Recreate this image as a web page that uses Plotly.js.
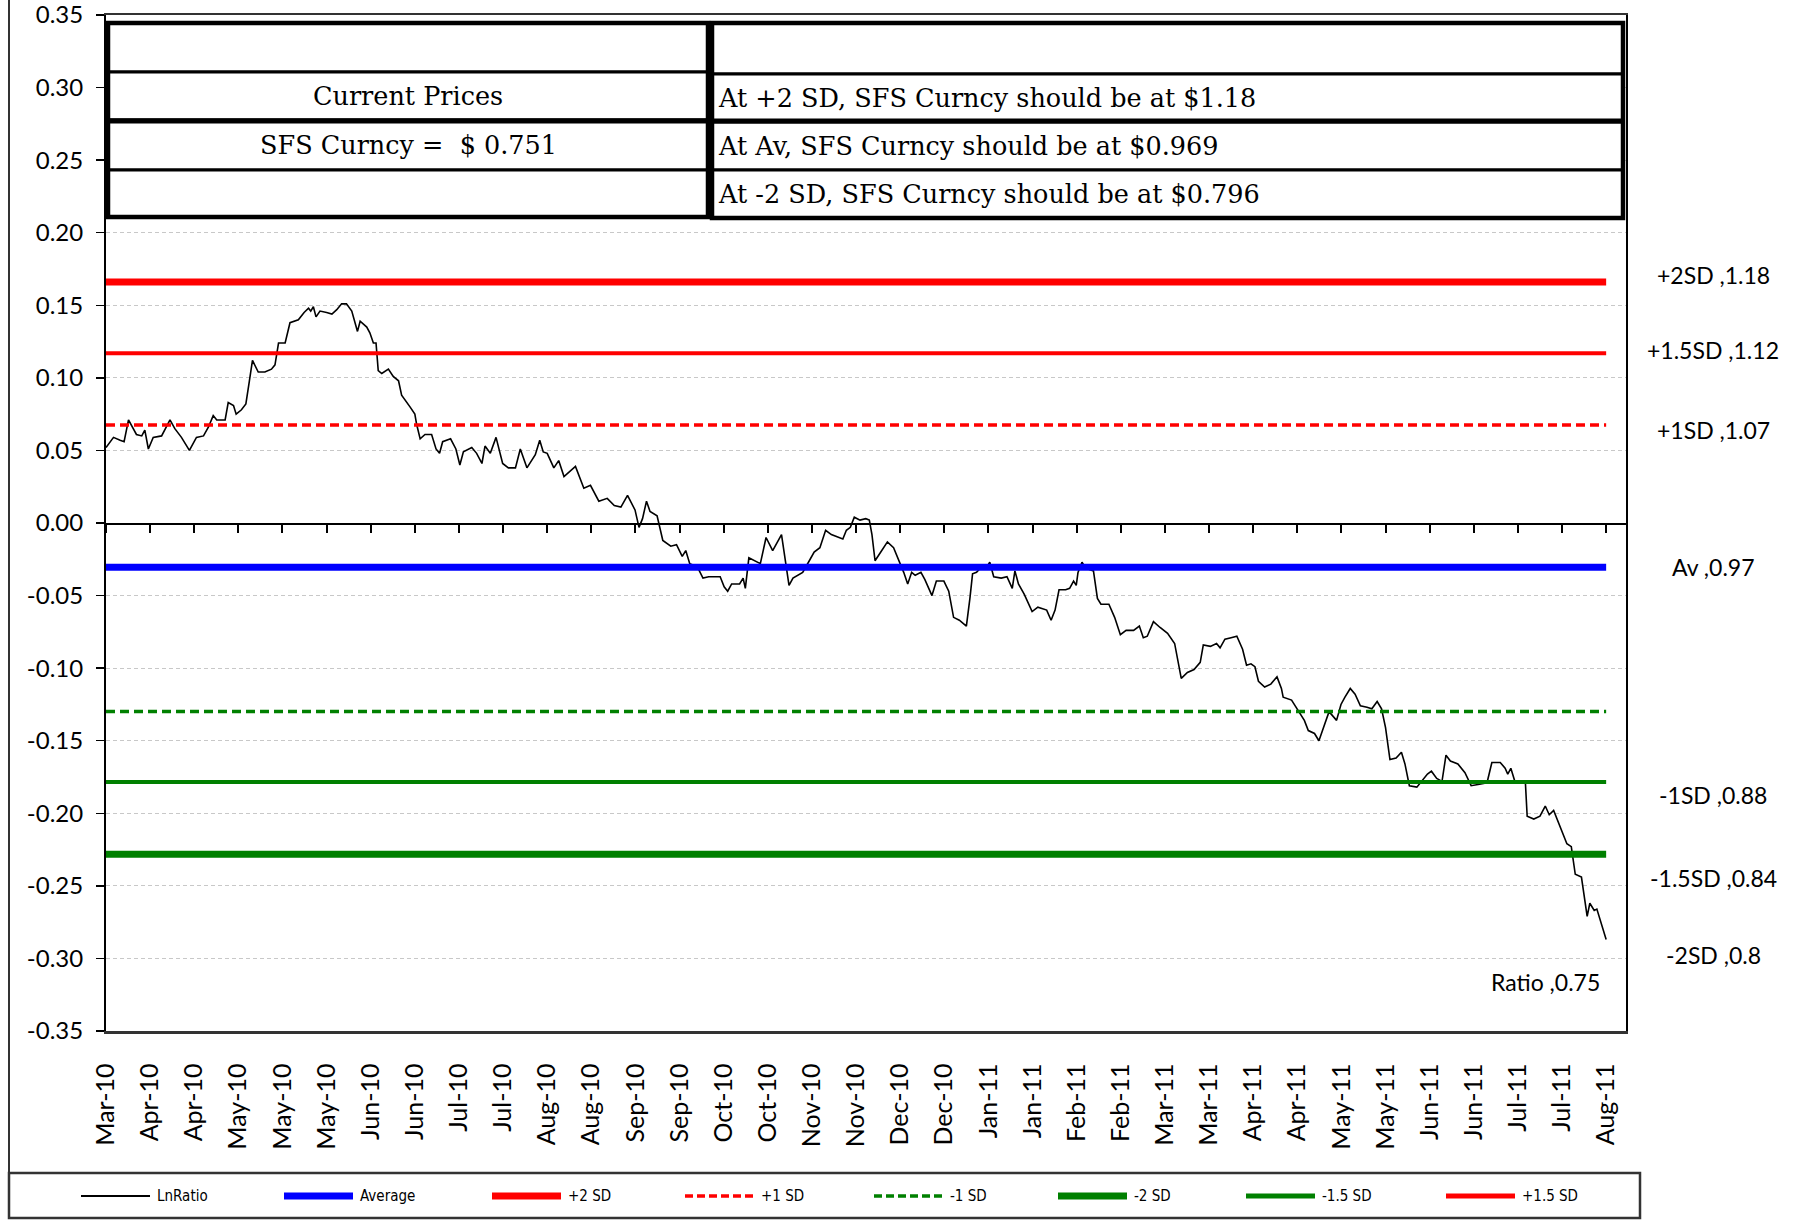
<!DOCTYPE html>
<html><head><meta charset="utf-8">
<script src="https://cdn.plot.ly/plotly-3.0.1.min.js"></script>
<style>html,body{margin:0;padding:0;background:#fff}#chart{width:1804px;height:1225px}</style>
</head><body><div id="chart"></div>
<script>
// ---- DATA ----
const tickLabels = ['Mar-10','Apr-10','Apr-10','May-10','May-10','May-10','Jun-10','Jun-10','Jul-10','Jul-10',
  'Aug-10','Aug-10','Sep-10','Sep-10','Oct-10','Oct-10','Nov-10','Nov-10','Dec-10','Dec-10',
  'Jan-11','Jan-11','Feb-11','Feb-11','Mar-11','Mar-11','Apr-11','Apr-11','May-11','May-11',
  'Jun-11','Jun-11','Jul-11','Jul-11','Aug-11'];
const labelEvery = 10; // one label per 10 trading days

// trading-day index of each sampled point
const lnDay = [0,1.7,3.2,4.1,5.1,5.8,6.9,8.1,8.8,9.6,10.7,12.6,13.7,14.5,15.6,17.1,18.9,20.5,22.1,23.2,
  24.3,25.1,27.0,27.7,28.9,29.5,30.7,31.7,32.5,33.2,34.5,36.0,37.5,38.3,39.1,40.6,41.7,43.6,44.9,45.9,
  46.4,47.0,47.6,48.5,50.0,51.2,52.3,53.4,54.5,55.7,57.0,57.6,59.1,59.8,60.6,61.2,61.7,62.5,64.0,65.1,
  66.3,67.0,68.9,70.0,70.4,71.2,72.3,73.8,74.8,75.6,76.3,78.1,79.3,80.2,81.0,82.9,84.0,85.2,85.9,87.1,
  88.4,89.9,91.2,92.8,93.9,95.4,97.3,98.3,99.1,100.0,101.5,102.6,103.8,105.3,106.4,108.3,109.8,111.7,113.6,115.2,
  116.7,118.2,119.9,120.8,121.6,122.5,123.3,124.9,126.2,128.0,129.3,130.6,131.4,132.3,134.0,135.3,136.6,137.9,139.2,140.1,
  140.9,141.8,143.6,144.4,144.9,145.7,147.0,148.3,149.6,151.1,153.1,153.9,154.8,155.7,157.9,159.4,160.5,161.8,163.1,164.4,
  166.1,167.0,167.8,168.7,169.6,170.9,172.2,173.0,173.6,174.3,175.6,177.1,178.5,179.9,180.8,181.7,182.6,183.4,184.7,185.6,
  187.2,188.2,189.9,191.0,192.1,193.4,195.0,195.8,196.4,197.3,198.2,199.5,200.3,201.2,202.9,204.2,205.4,206.0,206.8,208.1,
  209.9,211.2,213.2,214.2,215.1,216.0,217.5,218.4,219.3,219.9,220.3,221.2,222.0,223.8,224.7,225.5,227.3,228.6,229.9,231.2,
  232.9,234.2,235.1,236.0,237.4,238.9,240.6,242.2,243.0,243.7,245.1,246.6,248.0,248.7,250.3,251.7,252.5,253.6,255.0,256.3,
  257.6,258.5,259.5,260.4,261.2,262.6,264.0,265.4,266.4,266.8,268.7,270.2,271.6,272.5,273.9,274.9,276.3,277.2,278.9,279.9,
  280.8,282.0,283.1,284.3,285.8,286.9,288.1,289.1,290.0,291.0,292.4,293.6,294.4,295.4,297.1,298.2,299.5,300.4,301.6,302.8,
  303.7,304.7,306.4,308.0,309.4,311.3,313.0,314.1,316.0,317.1,317.7,318.4,319.3,321.7,322.1,323.6,325.0,326.2,327.1,328.1,
  329.0,330.2,331.1,332.1,333.0,334.4,335.7,336.3,337.3,337.9,340.0];
const lnRatio = [0.052,0.059,0.057,0.056,0.071,0.067,0.061,0.060,0.064,0.051,0.059,0.060,0.067,0.071,0.065,0.059,0.050,0.059,0.060,0.066,
  0.074,0.071,0.071,0.083,0.081,0.075,0.078,0.082,0.098,0.112,0.104,0.104,0.106,0.109,0.124,0.124,0.138,0.140,0.145,0.148,
  0.146,0.149,0.142,0.146,0.145,0.144,0.147,0.151,0.151,0.146,0.132,0.139,0.135,0.131,0.124,0.124,0.105,0.103,0.106,0.101,
  0.098,0.088,0.080,0.075,0.068,0.058,0.061,0.061,0.051,0.048,0.056,0.058,0.051,0.040,0.049,0.052,0.048,0.041,0.053,0.048,
  0.059,0.041,0.038,0.038,0.051,0.038,0.047,0.057,0.049,0.048,0.038,0.043,0.032,0.036,0.039,0.024,0.026,0.015,0.017,0.012,
  0.011,0.019,0.009,-0.003,0.003,0.015,0.008,0.005,-0.012,-0.016,-0.015,-0.023,-0.019,-0.028,-0.030,-0.038,-0.037,-0.037,-0.037,-0.044,
  -0.047,-0.042,-0.042,-0.038,-0.045,-0.024,-0.026,-0.028,-0.010,-0.019,-0.008,-0.023,-0.043,-0.038,-0.034,-0.026,-0.020,-0.017,-0.005,-0.008,
  -0.010,-0.011,-0.005,-0.003,0.004,0.002,0.003,0.002,-0.008,-0.026,-0.020,-0.013,-0.017,-0.027,-0.034,-0.042,-0.034,-0.036,-0.034,-0.039,
  -0.050,-0.040,-0.040,-0.047,-0.065,-0.067,-0.071,-0.052,-0.035,-0.034,-0.031,-0.031,-0.027,-0.037,-0.038,-0.037,-0.045,-0.033,-0.042,-0.049,
  -0.061,-0.058,-0.060,-0.067,-0.060,-0.046,-0.046,-0.045,-0.040,-0.043,-0.034,-0.027,-0.031,-0.033,-0.052,-0.056,-0.056,-0.065,-0.077,-0.074,
  -0.074,-0.071,-0.079,-0.078,-0.068,-0.072,-0.076,-0.083,-0.096,-0.107,-0.103,-0.101,-0.096,-0.084,-0.085,-0.083,-0.086,-0.080,-0.079,-0.078,
  -0.087,-0.098,-0.097,-0.099,-0.109,-0.113,-0.111,-0.106,-0.114,-0.120,-0.122,-0.129,-0.136,-0.143,-0.145,-0.150,-0.138,-0.130,-0.136,-0.125,
  -0.120,-0.114,-0.118,-0.126,-0.127,-0.128,-0.123,-0.128,-0.141,-0.163,-0.162,-0.158,-0.166,-0.181,-0.182,-0.178,-0.173,-0.171,-0.176,-0.178,
  -0.160,-0.164,-0.166,-0.172,-0.181,-0.180,-0.179,-0.165,-0.165,-0.169,-0.173,-0.169,-0.178,-0.179,-0.202,-0.204,-0.202,-0.195,-0.201,-0.198,
  -0.205,-0.214,-0.221,-0.223,-0.242,-0.244,-0.271,-0.262,-0.267,-0.266,-0.287];

const levelNames  = ['Average','+2 SD','+1 SD','-1 SD','-2 SD','-1.5 SD','+1.5 SD'];
const levelValues = [-0.0305, 0.166, 0.0675, -0.1298, -0.2283, -0.1785, 0.1170];
const levelColors = ['#0000FF','#FF0000','#FF0000','#008000','#008000','#008000','#FF0000'];
const levelWidths = [7, 7, 3.5, 3.5, 7, 4, 4];
const levelDash   = ['solid','solid','9px,5px','9px,5px','solid','solid','solid'];

const yTickValues = [-0.35,-0.30,-0.25,-0.20,-0.15,-0.10,-0.05,0,0.05,0.10,0.15,0.20,0.25,0.30,0.35];

const sideLabels  = ['+2SD ,1.18','+1.5SD ,1.12','+1SD ,1.07','Av ,0.97','-1SD ,0.88','-1.5SD ,0.84','-2SD ,0.8'];
const sideLabelY  = [0.1709, 0.1192, 0.0641, -0.0303, -0.1874, -0.2446, -0.2976];
const ratioLabel  = 'Ratio ,0.75';
const ratioLabelY = -0.3162;

const tableLeft  = ['', 'Current Prices', 'SFS Curncy =  $ 0.751', ''];
const tableRight = ['', 'At +2 SD, SFS Curncy should be at $1.18', 'At Av, SFS Curncy should be at $0.969', 'At -2 SD, SFS Curncy should be at $0.796'];

// ---- LAYOUT HELPERS (pixel -> paper) ----
const W = 1804, H = 1225, L = 106, R = 1626, T = 15, B = 1031;
const px = p => (p - L) / (R - L);
const py = p => (B - p) / (B - T);
const lastDay = lnDay[lnDay.length - 1];
const tickVals = tickLabels.map((_, i) => i * labelEvery);
const sansFont = 'Lato, Open Sans, sans-serif';
const serifFont = 'DejaVu Serif, Liberation Serif, serif';

// ---- TRACES ----
const traces = [{
  x: lnDay, y: lnRatio, type: 'scatter', mode: 'lines', name: 'LnRatio',
  line: {color: '#000000', width: 1.6}, xaxis: 'x', yaxis: 'y', showlegend: false, hoverinfo: 'skip'
}];
levelNames.forEach((n, i) => {
  traces.push({
    x: [0, lastDay], y: [levelValues[i], levelValues[i]], type: 'scatter', mode: 'lines', name: n,
    line: {color: levelColors[i], width: levelWidths[i], dash: levelDash[i]},
    xaxis: 'x2', yaxis: 'y', showlegend: false, hoverinfo: 'skip'
  });
});

// ---- SHAPES / ANNOTATIONS ----
const shapes = [];
const annotations = [];

// table
const leftRows  = [23, 72, 120, 170, 217];
const rightRows = [23, 74, 122, 170, 218];
for (let r = 0; r < 4; r++) {
  shapes.push({type:'rect', xref:'paper', yref:'paper', x0:px(108), x1:px(708), y0:py(leftRows[r]), y1:py(leftRows[r+1]),
    line:{color:'#000', width:3}, fillcolor:'#ffffff', layer:'above'});
  shapes.push({type:'rect', xref:'paper', yref:'paper', x0:px(712), x1:px(1623), y0:py(rightRows[r]), y1:py(rightRows[r+1]),
    line:{color:'#000', width:3}, fillcolor:'#ffffff', layer:'above'});
  annotations.push({xref:'paper', yref:'paper', x:px(408), y:py((leftRows[r]+leftRows[r+1])/2), text:tableLeft[r],
    showarrow:false, xanchor:'center', yanchor:'middle', font:{family:serifFont, size:25.5, color:'#000'}});
  annotations.push({xref:'paper', yref:'paper', x:px(716), y:py((rightRows[r]+rightRows[r+1])/2), text:tableRight[r],
    showarrow:false, xanchor:'left', yanchor:'middle', font:{family:serifFont, size:25.5, color:'#000'}});
}
shapes.push({type:'rect', xref:'paper', yref:'paper', x0:px(108), x1:px(708), y0:py(23), y1:py(217), line:{color:'#000', width:4.5}, layer:'above'});
shapes.push({type:'rect', xref:'paper', yref:'paper', x0:px(712), x1:px(1623), y0:py(23), y1:py(218), line:{color:'#000', width:4.5}, layer:'above'});
shapes.push({type:'line', xref:'paper', yref:'paper', x0:px(108), x1:px(1623), y0:py(121), y1:py(121), line:{color:'#000', width:5}, layer:'above'});

// side labels
sideLabels.forEach((t, i) => annotations.push({xref:'paper', yref:'y', x:px(1713), y:sideLabelY[i], text:t, showarrow:false,
  xanchor:'center', yanchor:'middle', font:{family:sansFont, size:23, color:'#000'}}));
annotations.push({xref:'paper', yref:'y', x:px(1545), y:ratioLabelY, text:ratioLabel, showarrow:false,
  xanchor:'center', yanchor:'middle', font:{family:sansFont, size:23, color:'#000'}});

// outer chart frame and legend box
shapes.push({type:'line', xref:'paper', yref:'paper', x0:px(9), x1:px(9), y0:py(0), y1:py(1218), line:{color:'#333', width:2}});
shapes.push({type:'rect', xref:'paper', yref:'paper', x0:px(9), x1:px(1640), y0:py(1173), y1:py(1218), line:{color:'#333', width:2.5}});

// legend entries
const legNames  = ['LnRatio'].concat(levelNames);
const legColors = ['#000000'].concat(levelColors);
const legWidths = [2].concat([7, 7, 3.5, 3.5, 7, 5, 5]);
const legDash   = ['solid'].concat(['solid','solid','8px,4px','8px,4px','solid','solid','solid']);
const legStart  = [81, 284, 492, 685, 874, 1058, 1246, 1446];
const legY = 1196;
legNames.forEach((n, i) => {
  shapes.push({type:'line', xref:'paper', yref:'paper', x0:px(legStart[i]), x1:px(legStart[i] + 69), y0:py(legY), y1:py(legY),
    line:{color:legColors[i], width:legWidths[i], dash:legDash[i]}});
  annotations.push({xref:'paper', yref:'paper', x:px(legStart[i] + 74), y:py(legY), text:n, showarrow:false,
    xanchor:'left', yanchor:'middle', font:{family:'DejaVu Sans Condensed, Lato, sans-serif', size:15, color:'#000'}});
});

const layout = {
  width: W, height: H,
  margin: {l: L, r: W - R, t: T, b: H - B, pad: 0},
  paper_bgcolor: '#ffffff', plot_bgcolor: '#ffffff',
  showlegend: false,
  xaxis: {
    type: 'linear', range: [0, 344.5], tickvals: tickVals, ticktext: tickLabels, tickangle: -90,
    ticks: '', showgrid: false, zeroline: false, showline: true, linecolor: '#333', linewidth: 2.5, mirror: true,
    tickfont: {family: sansFont, size: 25, color: '#000'}, ticklabelstandoff: 20, fixedrange: true
  },
  xaxis2: {
    type: 'linear', range: [0, 344.5], overlaying: 'x', anchor: 'free', position: 0.5, side: 'bottom',
    tickvals: tickVals, showticklabels: false, ticks: 'outside', ticklen: 8, tickwidth: 2, tickcolor: '#000',
    showline: true, linecolor: '#000', linewidth: 1.5, showgrid: false, zeroline: false, fixedrange: true
  },
  yaxis: {
    range: [-0.35, 0.35], tickvals: yTickValues, ticktext: yTickValues.map(v => v.toFixed(2)),
    ticks: 'outside', ticklen: 8, tickwidth: 1.5, tickcolor: '#000',
    showline: true, linecolor: '#000', linewidth: 2, mirror: true,
    showgrid: true, gridcolor: '#c8c8c8', gridwidth: 1, griddash: '4px,3px', zeroline: false,
    tickfont: {family: sansFont, size: 24, color: '#000'}, ticklabelstandoff: 8, ticklabeloverflow: 'allow',
    fixedrange: true
  },
  shapes: shapes,
  annotations: annotations
};

Plotly.newPlot('chart', traces, layout, {staticPlot: true, displayModeBar: false});
</script>
</body></html>
